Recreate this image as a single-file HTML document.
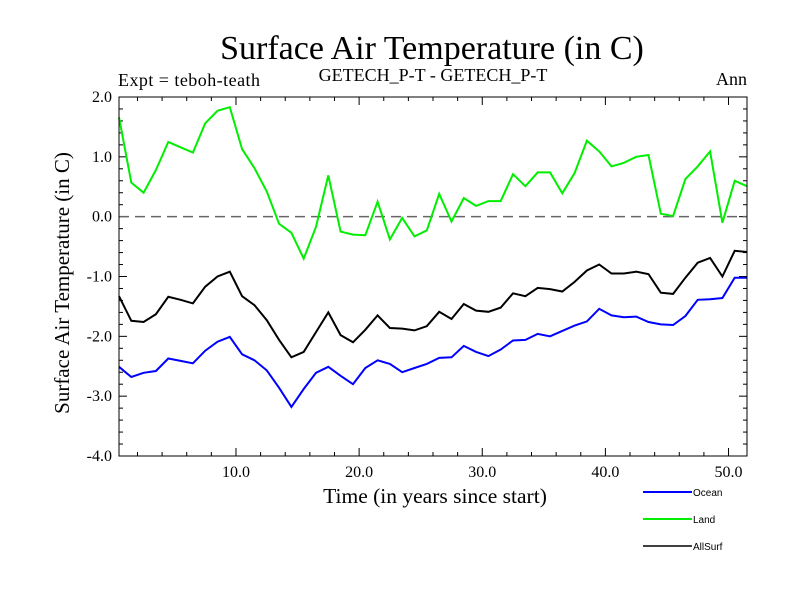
<!DOCTYPE html>
<html><head><meta charset="utf-8"><style>
html,body{margin:0;padding:0;background:#fff;width:800px;height:600px;overflow:hidden}
svg text{font-family:"Liberation Serif",serif}
</style></head><body>
<svg id="chart" width="800" height="600" viewBox="0 0 800 600" xmlns="http://www.w3.org/2000/svg">
<text x="432" y="59" font-size="34" text-anchor="middle">Surface Air Temperature (in C)</text>
<text x="118" y="86" font-size="18" textLength="142">Expt = teboh-teath</text>
<text x="433" y="81" font-size="18" text-anchor="middle">GETECH_P-T - GETECH_P-T</text>
<text x="747" y="85" font-size="18" text-anchor="end">Ann</text>
<text x="435" y="503" font-size="21.5" text-anchor="middle">Time (in years since start)</text>
<text transform="translate(69,283) rotate(-90)" font-size="21" text-anchor="middle">Surface Air Temperature (in C)</text>
<g id="ticks"></g>
<g id="series"></g>
<rect x="119" y="97" width="628" height="359" fill="none" stroke="#000" stroke-width="1"/>
<g id="legend"></g>
</svg>
<script>
const years = [];
for (let i = 0; i < 52; i++) years.push(0.5 + i);
const ocean = [-2.51,-2.68,-2.61,-2.58,-2.37,-2.41,-2.45,-2.24,-2.09,-2.01,-2.30,-2.40,-2.57,-2.86,-3.18,-2.88,-2.61,-2.51,-2.66,-2.80,-2.53,-2.40,-2.46,-2.60,-2.53,-2.46,-2.36,-2.35,-2.16,-2.26,-2.33,-2.22,-2.07,-2.06,-1.96,-2.00,-1.91,-1.82,-1.75,-1.54,-1.65,-1.68,-1.67,-1.76,-1.80,-1.81,-1.66,-1.39,-1.38,-1.36,-1.02,-1.02];
const land = [1.66,0.57,0.40,0.78,1.25,1.16,1.07,1.56,1.77,1.83,1.13,0.81,0.42,-0.12,-0.27,-0.70,-0.17,0.69,-0.25,-0.30,-0.31,0.25,-0.38,-0.02,-0.33,-0.23,0.38,-0.08,0.31,0.18,0.26,0.26,0.71,0.51,0.74,0.74,0.39,0.73,1.27,1.09,0.84,0.90,1.00,1.03,0.05,0.01,0.63,0.84,1.09,-0.10,0.60,0.51];
const allSurf = [-1.33,-1.74,-1.76,-1.63,-1.34,-1.39,-1.45,-1.17,-1.00,-0.92,-1.33,-1.48,-1.73,-2.06,-2.35,-2.26,-1.93,-1.60,-1.98,-2.10,-1.89,-1.65,-1.86,-1.87,-1.90,-1.83,-1.59,-1.71,-1.46,-1.57,-1.59,-1.52,-1.28,-1.33,-1.19,-1.21,-1.25,-1.09,-0.90,-0.80,-0.95,-0.95,-0.92,-0.96,-1.27,-1.29,-1.02,-0.77,-0.69,-1.00,-0.57,-0.59];
const xTickValues = [10,20,30,40,50];
const xTickLabels = ["10.0","20.0","30.0","40.0","50.0"];
const yTickValues = [2,1,0,-1,-2,-3,-4];
const yTickLabels = ["2.0","1.0","0.0","-1.0","-2.0","-3.0","-4.0"];
const seriesNames = ["Ocean","Land","AllSurf"];
const seriesColors = ["#0000ff","#00ee00","#000000"];

const X0=119,X1=747,Y0=97,Y1=456,XMIN=0.5,XMAX=51.5,YMIN=-4,YMAX=2;
const sx=v=>X0+(v-XMIN)/(XMAX-XMIN)*(X1-X0);
const sy=v=>Y1-(v-YMIN)/(YMAX-YMIN)*(Y1-Y0);
const NS="http://www.w3.org/2000/svg";
function mk(tag,attrs,parent){const e=document.createElementNS(NS,tag);for(const k in attrs)e.setAttribute(k,attrs[k]);parent.appendChild(e);return e;}
const tg=document.getElementById('ticks');
for(let v=2;v<=50;v+=2){
  const major=v%10===0;const L=major?8:4;const x=sx(v);
  const t1=mk('line',{x1:x,x2:x,y1:Y1,y2:Y1-L,stroke:'#000'},tg);
  
  
  const t2=mk('line',{x1:x,x2:x,y1:Y0,y2:Y0+L,stroke:'#000'},tg);
  
  
}
xTickValues.forEach((v,i)=>{
  const t=mk('text',{x:sx(v),y:Y1+21,'font-size':16,'text-anchor':'middle'},tg);t.textContent=xTickLabels[i];
  
  
});
for(let k=0;k<=30;k++){
  const v=YMIN+k*0.2;const major=k%5===0;const L=major?8:4;const y=sy(v);
  const t1=mk('line',{x1:X0,x2:X0+L,y1:y,y2:y,stroke:'#000'},tg);
  
  
  const t2=mk('line',{x1:X1,x2:X1-L,y1:y,y2:y,stroke:'#000'},tg);
  
  
}
yTickValues.forEach((v,i)=>{
  const t=mk('text',{x:X0-7,y:sy(v)+5,'font-size':16,'text-anchor':'end'},tg);t.textContent=yTickLabels[i];
  
  
});
const sg=document.getElementById('series');
const zl=mk('line',{x1:X0,x2:X1,y1:sy(0),y2:sy(0),stroke:'#666','stroke-width':1.5,'stroke-dasharray':'10,6'},sg);


const allData=[ocean,land,allSurf];
allData.forEach((d,si)=>{
  const pts=d.map((v,i)=>sx(years[i]).toFixed(1)+','+sy(v).toFixed(1)).join(' ');
  const p=mk('polyline',{points:pts,fill:'none',stroke:seriesColors[si],'stroke-width':2,'stroke-linejoin':'miter'},sg);
  
  
});
const lg=document.getElementById('legend');
seriesNames.forEach((n,i)=>{
  const y=492+i*27;
  const l=mk('line',{x1:643,x2:692,y1:y,y2:y,stroke:seriesColors[i],'stroke-width':i===2?1.5:2},lg);
  
  
  const t=mk('text',{x:693,y:y+4,'font-size':10,style:'font-family:"Liberation Sans",sans-serif'},lg);t.textContent=n;
  
  
});
</script>
</body></html>
